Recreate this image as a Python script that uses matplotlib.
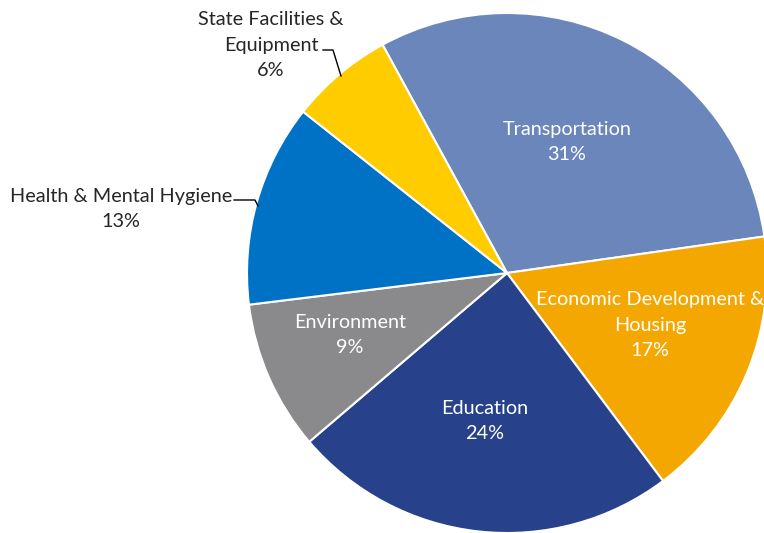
import matplotlib
matplotlib.use("Agg")
import matplotlib.pyplot as plt

categories = ["Transportation", "Economic Development &\nHousing", "Education",
              "Environment", "Health & Mental Hygiene", "State Facilities &\nEquipment"]
shares = [30.7, 17.0, 24.0, 9.3, 12.6, 6.4]
colors = ["#6A86BA", "#F4A700", "#27428B", "#8A8A8C", "#0072C6", "#FFCC00"]

W, H = 764, 533
fig = plt.figure(figsize=(W / 100, H / 100), dpi=100)
ax = fig.add_axes([0, 0, 1, 1])

cx, cy, R = 507, 273, 260
wedges, _ = ax.pie(shares, colors=colors, startangle=118.6, counterclock=False,
                   center=(cx, -cy), radius=R,
                   wedgeprops=dict(edgecolor="white", linewidth=1.5))
ax.set_xlim(0, W)
ax.set_ylim(-H, 0)
ax.set_aspect("equal")
ax.axis("off")

font = dict(family="Lato", fontsize=14.3)
pct = [f"{round(s)}%" for s in shares]
ls = 1.6

# inside labels (white)
inside = {0: (567, 142), 1: (650, 325), 2: (485, 421), 3: (350, 335)}
for i, (x, y) in inside.items():
    ax.text(x, -y, categories[i] + "\n" + pct[i], ha="center", va="center",
            color="white", linespacing=ls, **font)

# outside labels (black) with leader lines
ax.text(121, -209, categories[4] + "\n" + pct[4], ha="center", va="center",
        color="#262626", linespacing=ls, **font)
ax.plot([234, 255, 258], [-200, -200, -206], color="black", lw=1)

ax.text(271, -45, categories[5] + "\n" + pct[5], ha="center", va="center",
        color="#262626", linespacing=ls, **font)
ax.plot([323, 333, 341], [-50, -50, -76], color="black", lw=1)

fig.savefig("out.png", dpi=100)
